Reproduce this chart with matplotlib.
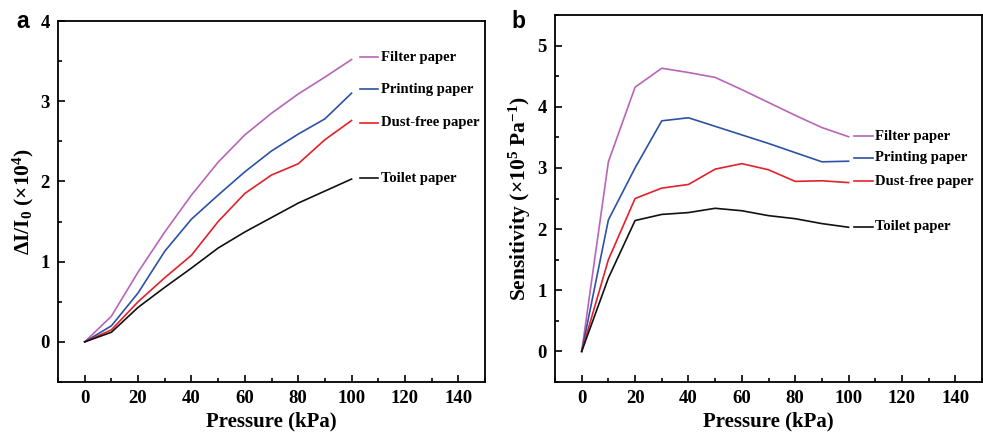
import matplotlib
matplotlib.use("Agg")
import matplotlib.pyplot as plt
from matplotlib.ticker import MultipleLocator

plt.rcParams['font.family'] = ['Liberation Serif', 'DejaVu Serif']
plt.rcParams['font.weight'] = 'bold'
plt.rcParams['mathtext.fontset'] = 'custom'
plt.rcParams['mathtext.rm'] = 'Liberation Serif:bold'
plt.rcParams['mathtext.it'] = 'Liberation Serif:bold'
plt.rcParams['mathtext.bf'] = 'Liberation Serif:bold'
plt.rcParams['mathtext.fallback'] = 'stix'

# pressure steps (kPa)
pressure = [0, 10, 20, 30, 40, 50, 60, 70, 80, 90, 100]

names = ["Filter paper", "Printing paper", "Dust-free paper", "Toilet paper"]
colors = ["#b964b9", "#2b52a5", "#e4202a", "#111111"]

# panel a: relative current change (x10^4)
filter_a = [0, 0.32, 0.87, 1.37, 1.83, 2.24, 2.58, 2.85, 3.09, 3.30, 3.52]
printing_a = [0, 0.20, 0.61, 1.13, 1.53, 1.83, 2.12, 2.38, 2.59, 2.78, 3.10]
dustfree_a = [0, 0.15, 0.50, 0.80, 1.08, 1.50, 1.85, 2.08, 2.22, 2.52, 2.76]
toilet_a = [0, 0.12, 0.43, 0.68, 0.92, 1.17, 1.37, 1.55, 1.73, 1.88, 2.03]

# panel b: sensitivity (x10^5 Pa^-1)
filter_b = [0, 3.10, 4.32, 4.63, 4.56, 4.48, 4.28, 4.07, 3.86, 3.66, 3.51]
printing_b = [0, 2.15, 3.00, 3.77, 3.82, 3.68, 3.54, 3.40, 3.25, 3.10, 3.11]
dustfree_b = [0, 1.50, 2.50, 2.67, 2.73, 2.98, 3.07, 2.97, 2.78, 2.79, 2.76]
toilet_b = [0, 1.20, 2.14, 2.24, 2.27, 2.34, 2.30, 2.22, 2.17, 2.09, 2.03]

# label positions (data coords) for the inline legends
label_y_a = [3.55, 3.15, 2.73, 2.04]
label_y_b = [3.52, 3.17, 2.78, 2.04]

fig = plt.figure(figsize=(9.83, 4.34), dpi=100)
ax_a = fig.add_axes([0.059, 0.1198, 0.4344, 0.8318])
ax_b = fig.add_axes([0.5646, 0.1198, 0.4344, 0.8456])


def style(ax, ylim, ylabel):
    ax.set_xlim(-10, 150)
    ax.set_ylim(*ylim)
    ax.xaxis.set_major_locator(MultipleLocator(20))
    ax.xaxis.set_minor_locator(MultipleLocator(10))
    ax.yaxis.set_major_locator(MultipleLocator(1))
    ax.yaxis.set_minor_locator(MultipleLocator(0.5))
    ax.tick_params(which='both', direction='in', top=False, right=False,
                   width=1.2, labelsize=13.5, pad=6)
    ax.tick_params(which='major', length=5)
    ax.tick_params(which='minor', length=3)
    for s in ax.spines.values():
        s.set_linewidth(1.3)
    ax.set_xlabel("Pressure (kPa)", fontsize=15, fontweight='bold', labelpad=3)
    ax.set_ylabel(ylabel, fontsize=15.5, fontweight='bold', labelpad=3)
    for lab in ax.get_xticklabels() + ax.get_yticklabels():
        lab.set_fontweight('bold')


series_a = [filter_a, printing_a, dustfree_a, toilet_a]
series_b = [filter_b, printing_b, dustfree_b, toilet_b]

for ys, c in zip(series_a, colors):
    ax_a.plot(pressure, ys, color=c, linewidth=1.2)
for name, c, y in zip(names, colors, label_y_a):
    ax_a.plot([103, 110], [y, y], color=c, linewidth=1.2)
    ax_a.text(111, y, name, fontsize=10.5, fontweight='bold', va='center', ha='left')

for ys, c in zip(series_b, colors):
    ax_b.plot(pressure, ys, color=c, linewidth=1.2)
for name, c, y in zip(names, colors, label_y_b):
    ax_b.plot([102, 109], [y, y], color=c, linewidth=1.2)
    ax_b.text(110, y, name, fontsize=10.5, fontweight='bold', va='center', ha='left')

style(ax_a, (-0.5, 4), "ΔI/I$_0$ (×10$^4$)")
style(ax_b, (-0.5, 5.5), "Sensitivity (×10$^5$ Pa$^{-1}$)")

fig.text(0.023, 0.95, "a", fontsize=16.5, fontweight='bold', family='Liberation Sans', va='center', ha='center')
fig.text(0.527, 0.95, "b", fontsize=16.5, fontweight='bold', family='Liberation Sans', va='center', ha='center')

fig.savefig("out.png", dpi=100)
